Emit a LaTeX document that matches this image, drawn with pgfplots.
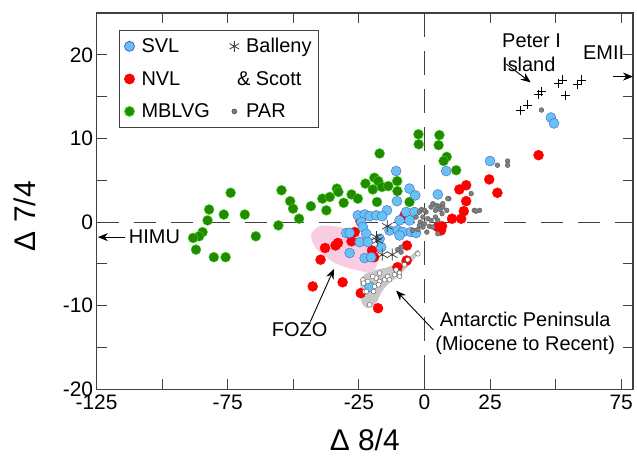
\documentclass[border=0pt]{standalone}
\usepackage{fontspec}
\setmainfont{Liberation Sans}
\usepackage{pgfplots}
\pgfplotsset{compat=1.18}
\usetikzlibrary{arrows.meta}

\definecolor{svlfill}{RGB}{102,194,242}
\definecolor{svledge}{RGB}{80,95,200}
\definecolor{mbfill}{RGB}{38,135,0}
\definecolor{mbedge}{RGB}{40,230,20}
\definecolor{axgray}{RGB}{64,64,64}
\definecolor{fozo}{RGB}{248,205,225}
\definecolor{apgray}{RGB}{200,200,200}

\begin{document}
\begin{tikzpicture}[arr/.style={-{Stealth[length=10bp,width=8bp]}, line width=0.9pt}]
\begin{axis}[
  scale only axis, width=536bp, height=376bp,
  xmin=-125, xmax=79.5, ymin=-20, ymax=25,
  axis line style={axgray, line width=1.2pt},
  tick style={axgray, line width=0.9pt},
  tick align=inside, major tick length=10bp,
  xtick={-125,-100,...,75}, xticklabels={-125,,-75,,-25,0,25,,75},
  ytick={-20,-15,...,20}, yticklabels={-20,,-10,,0,,10,,20},
  ticklabel style={font=\fontsize{21}{21}\selectfont},
  xticklabel style={yshift=-2bp},
  /pgf/number format/assume math mode=true,
  xlabel={Δ 8/4}, ylabel={Δ 7/4},
  every axis x label/.style={at={(axis description cs:0.5,-0.135)}, anchor=center,
    font=\fontsize{30}{30}\selectfont},
  every axis y label/.style={at={(axis description cs:-0.133,0.46)}, rotate=90, anchor=center,
    font=\fontsize{30}{30}\selectfont},
  legend columns=2,
  legend cell align=left,
  legend style={at={(axis description cs:0.042,0.955)}, anchor=north west,
    draw=axgray, line width=0.8pt, font=\fontsize{20}{22}\selectfont,
    inner xsep=5bp, inner ysep=6bp,
    row sep=13bp, /tikz/every odd column/.append style={column sep=5bp},
    /tikz/every even column/.append style={column sep=14bp}},
  clip=false,
]
% legend
\addlegendimage{only marks, mark=*, mark size=5bp, draw=svledge, fill=svlfill}
\addlegendentry{SVL}
\addlegendimage{only marks, mark=asterisk, mark size=5.5bp, black!75}
\addlegendentry{Balleny}
\addlegendimage{only marks, mark=*, mark size=5bp, red}
\addlegendentry{NVL}
\addlegendimage{empty legend}
\addlegendentry{\hspace*{-9bp}\& Scott}
\addlegendimage{only marks, mark=*, mark size=5bp, draw=mbedge, fill=mbfill}
\addlegendentry{MBLVG}
\addlegendimage{only marks, mark=*, mark size=2.4bp, draw=black!65, fill=gray}
\addlegendentry{PAR}

% Antarctic Peninsula field
\addplot[fill=apgray, draw=none, smooth cycle, forget plot] coordinates {
(-1.9,-3.55) (-5.7,-5.1) (-9.5,-6.3) (-14.1,-7.5) (-16.4,-8.4) (-18.6,-9.8)
(-21.7,-10.3) (-24.0,-9.6) (-24.4,-7.9) (-24.4,-6.9) (-22.1,-6.1) (-18.3,-5.7)
(-14.1,-5.4) (-9.5,-4.8) (-4.9,-3.95) (-3.0,-3.35)};
% FOZO field
\addplot[fill=fozo, draw=none, smooth cycle, forget plot] coordinates {
(-43.0,-1.3) (-40.0,-0.5) (-34.2,-0.5) (-26.6,-1.2) (-20.2,-2.75) (-17.9,-4.8)
(-20.2,-6.0) (-26.6,-5.7) (-34.2,-4.9) (-40.7,-3.35) (-43.0,-2.15)};

% reference lines
\addplot[axgray, line width=0.8pt, dash pattern=on 22bp off 15bp, forget plot]
  coordinates {(-125,0) (79.5,0)};
\addplot[axgray, line width=0.8pt, dash pattern=on 24bp off 14bp, forget plot]
  coordinates {(0,25) (0,-20)};

% MBLVG
\addplot[only marks, mark=*, mark size=5bp, draw=mbedge, fill=mbfill, forget plot] coordinates {
(-73.9,3.5) (-82.1,1.5) (-76.5,0.9) (-68.5,0.9) (-82.7,0.2) (-84.6,-1.2) (-85.9,-1.7)
(-88.2,-1.9) (-87.1,-3.3) (-64.3,-1.7) (-80.3,-4.2) (-75.8,-4.2) (-54.5,3.8) (-51.2,2.5)
(-50.1,1.6) (-47.8,0.4) (-55.7,-0.4) (-43.3,1.9) (-37.4,1.4) (-38.9,2.8) (-36.1,3.0)
(-33.4,4.0) (-32.8,3.6) (-30.8,2.3) (-27.8,3.3) (-25.4,2.8) (-22.5,4.6) (-19.1,5.3)
(-17.6,4.9) (-19.7,3.9) (-16.2,4.2) (-13.8,4.3) (-18.1,2.4) (-10.4,4.9) (-10.3,3.7)
(-5.7,2.4) (-17.1,8.2) (-2.3,10.5) (-2.2,9.3) (5.7,10.4) (5.4,9.2) (8.5,7.8) (7.3,7.3)
(12.1,6.2)};

% NVL
\addplot[only marks, mark=*, mark size=5bp, red, forget plot] coordinates {
(43.5,8.0) (24.7,5.1) (27.8,3.5) (15.9,4.4) (13.3,3.9) (15.9,2.5) (15.0,1.3) (14.0,0.4)
(10.5,0.4) (6.7,-0.5) (5.1,-0.6) (6.3,-1.0) (-7.6,0.8) (-24.4,0.1) (-26.6,-1.2)
(-27.8,-2.3) (-33.9,-2.8) (-33.0,-2.5) (-37.9,-3.1) (-39.6,-4.5) (-42.6,-7.7)
(-31.2,-7.2) (-24.3,-8.5) (-17.7,-10.3) (-20.0,-3.4) (-19.2,-4.2) (-6.7,-2.8)
(-6.8,-4.6) (-10.3,-5.4)};

% SVL
\addplot[only marks, mark=*, mark size=5bp, draw=svledge, fill=svlfill, forget plot] coordinates {
(48.2,12.5) (49.4,11.8) (25.0,7.3) (8.3,6.1) (-10.8,6.1) (-5.7,4.0) (-3.5,3.2) (5.1,3.3)
(-10.5,2.5) (-14.3,1.4) (-7.0,1.2) (-3.8,1.2) (-25.4,0.8) (-22.8,0.9) (-20.9,0.7)
(-18.4,0.8) (-16.1,0.7) (-9.5,0.2) (-5.7,0.2) (-24.1,0.0) (-23.5,-0.6) (-29.8,-1.3)
(-28.5,-1.3) (-22.2,-1.4) (-13.3,-1.0) (-10.2,-1.0) (-8.3,-1.2) (-5.1,-1.2) (-3.2,-1.3)
(-24.7,-2.4) (-21.6,-2.4) (-17.1,-2.0) (-16.5,-3.0) (-9.5,-1.6) (-22.8,-4.3)
(-20.3,-4.2) (-28.5,-3.7) (-20.9,-7.7)};

% PAR
\addplot[only marks, mark=*, mark size=2.4bp, draw=black!65, fill=gray, forget plot] coordinates {
(44.6,13.4) (27.8,6.8) (31.7,7.3) (31.7,6.8) (9.3,2.8) (17.8,3.4) (19.0,1.4) (21.0,1.4)
(5.1,-1.4) (-1.1,1.5) (0.6,1.2) (2.5,1.8) (4.2,1.4) (5.4,1.9) (6.0,1.5) (7.0,1.8)
(8.5,1.4) (-0.6,0.6) (1.3,0.4) (2.5,0.2) (4.2,0.6) (5.1,0.2) (-1.6,0.0) (0.0,-0.2)
(1.9,-0.5) (3.2,-0.6) (-0.6,-0.6) (-2.5,-0.9) (0.9,-1.2) (-1.9,-0.4) (6.7,1.0)
(3.2,2.2) (-1.9,1.2) (0.0,1.4) (-3.2,0.6) (-4.5,-1.0) (4.4,2.0) (7.0,2.2) (8.9,2.8)
(19.7,1.3) (-10.2,-3.3) (-8.9,-3.6) (-8.9,-3.0)};

% Antarctic Peninsula samples
\addplot[only marks, mark=*, mark size=2.4bp, draw=black!65, fill=white, forget plot] coordinates {
(-2.5,-3.8) (-6.4,-4.5) (-7.6,-5.1) (-10.8,-5.7) (-9.5,-6.1) (-11.4,-6.3) (-14.0,-6.5)
(-13.3,-6.9) (-15.2,-6.9) (-17.1,-6.1) (-18.4,-6.7) (-19.7,-6.5) (-17.1,-7.1)
(-21.6,-7.1) (-23.5,-6.9) (-19.0,-7.7) (-22.8,-8.3) (-20.9,-9.9) (-9.5,-6.5)
(-23.2,-7.3) (-17.5,-7.5) (-19.4,-8.3) (-22.2,-8.3)};

% Balleny & Scott
\addplot[only marks, mark=asterisk, mark size=6bp, black!80, line width=0.7pt, forget plot] coordinates {
(-14.2,-0.5) (-18.3,-1.8) (-17.8,-2.2) (-16.1,-3.9) (-12.3,-3.9)};

% Peter I Island
\addplot[only marks, mark=+, mark size=4.5bp, black, line width=0.8pt, forget plot] coordinates {
(36.5,13.4) (39.4,14.0) (43.3,15.3) (44.6,15.6) (51.2,16.6) (52.5,17.0) (53.6,15.1)
(58.4,16.5) (59.7,17.0)};

% annotations
\node[font=\fontsize{20}{24}\selectfont, align=left, anchor=west] at (axis cs:28.3,20.2) {Peter I\\Island};
\draw[arr] (axis cs:31.2,18.9) -- (axis cs:40.5,16.7);
\node[font=\fontsize{20}{23}\selectfont] at (axis cs:68.3,20.3) {EMII};
\draw[arr] (axis cs:71.8,17.4) -- (axis cs:79.5,17.4);
\node[font=\fontsize{20}{23}\selectfont, anchor=west] at (axis cs:-114,-1.8) {HIMU};
\draw[arr] (axis cs:-114.3,-1.8) -- (axis cs:-124.5,-1.8);
\node[font=\fontsize{20}{23}\selectfont] at (axis cs:-47.6,-12.9) {FOZO};
\draw[arr] (axis cs:-43.5,-11.9) -- (axis cs:-34.5,-5.6);
\node[font=\fontsize{20}{24}\selectfont, align=center] at (axis cs:38.4,-13.3) {Antarctic Peninsula\\(Miocene to Recent)};
\draw[arr] (axis cs:3.4,-12.9) -- (axis cs:-10.8,-8.2);
\end{axis}
\pgfresetboundingbox
\path ([xshift=-96.5bp,yshift=-74bp]current axis.south west) rectangle ([xshift=4bp,yshift=13bp]current axis.north east);
\end{tikzpicture}
\end{document}
